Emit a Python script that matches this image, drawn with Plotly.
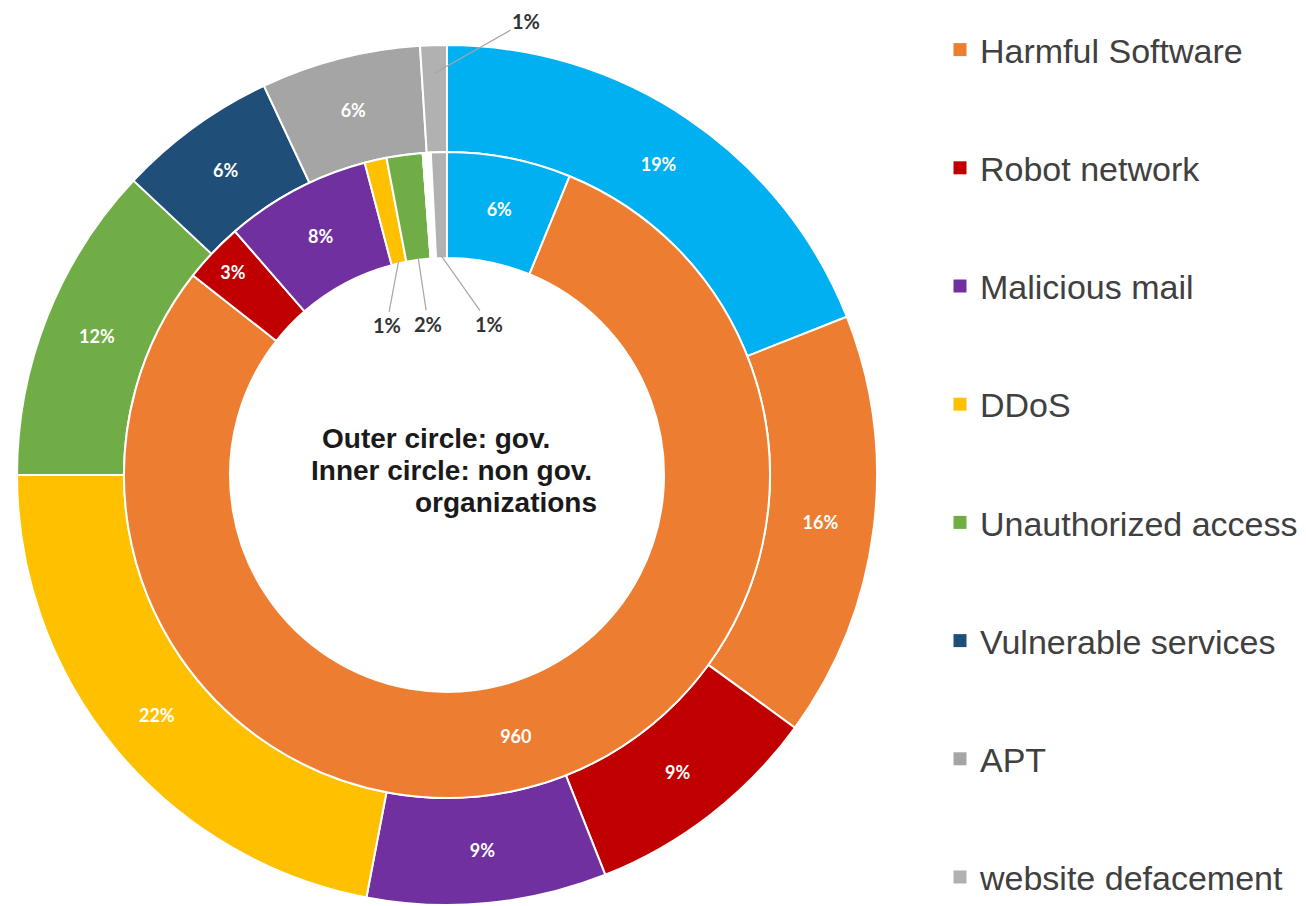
import math
import plotly.graph_objects as go

W, H = 1306, 906

# ---------------- data ----------------
labels = ["Other", "Harmful Software", "Robot network", "Malicious mail", "DDoS",
          "Unauthorized access", "Vulnerable services", "APT", "website defacement"]
colors = ["#00B0F0", "#ED7D31", "#C00000", "#7030A0", "#FFC000",
          "#70AD47", "#1F4E79", "#A5A5A5", "#B1B1B1"]

# outer circle: government organisations (share, %)
gov_values = [19, 16, 9, 9, 22, 12, 6, 6, 1]
gov_text = ["19%", "16%", "9%", "9%", "22%", "12%", "6%", "6%", "1%"]

# inner circle: non-government organisations (share read from the angles)
nongov_values = [6.2, 79.4, 3.0, 7.3, 1.1, 1.8, 0.0, 0.4, 0.8]
nongov_text = ["6%", "960", "3%", "8%", "1%", "2%", "", "", "1%"]

legend_labels = labels[1:]
legend_colors = colors[1:]

center_lines = ["Outer circle: gov.", "Inner circle: non gov.", "organizations"]

# ---------------- geometry / style ----------------
CX, CY = 447, 475          # pie centre in px
R_OUT, R_MID, R_HOLE = 430, 323, 217
SMALL = 2.5                # slices below this get a call-out label
inner_colors = list(colors)
inner_colors[labels.index("APT")] = "#FFFFFF"

outer_callouts = {"website defacement": (92, -52)}
inner_callouts = {"DDoS": (-12, 64), "Unauthorized access": (10, 66),
                  "website defacement": (48, 68)}

LABEL_FONT = dict(family="Lato, Carlito, sans-serif", size=18, color="white")


def px_x(x):
    return x / W


def px_y(y):
    return 1 - y / H


def mid_angle(values, i):
    total = sum(values)
    start = sum(values[:i])
    return (start + values[i] / 2) / total * 360.0


def point(angle_deg, r):
    a = math.radians(angle_deg)
    return CX + r * math.sin(a), CY - r * math.cos(a)


fig = go.Figure()

outer_pos = ["none" if v < SMALL else "inside" for v in gov_values]
inner_pos = ["none" if v < SMALL else "inside" for v in nongov_values]

fig.add_trace(go.Pie(
    labels=labels, values=gov_values, text=gov_text, texttemplate="<b>%{text}</b>",
    textposition=outer_pos, insidetextorientation="horizontal",
    sort=False, direction="clockwise", rotation=0,
    hole=R_MID / R_OUT,
    marker=dict(colors=colors, line=dict(color="white", width=2)),
    textfont=LABEL_FONT, showlegend=False,
    domain=dict(x=[px_x(CX - R_OUT), px_x(CX + R_OUT)],
                y=[px_y(CY + R_OUT), px_y(CY - R_OUT)]),
    name="gov.",
))

fig.add_trace(go.Pie(
    labels=labels, values=nongov_values, text=nongov_text, texttemplate="<b>%{text}</b>",
    textposition=inner_pos, insidetextorientation="horizontal",
    sort=False, direction="clockwise", rotation=0,
    hole=R_HOLE / R_MID,
    marker=dict(colors=inner_colors, line=dict(color="white", width=2)),
    textfont=LABEL_FONT, showlegend=False,
    domain=dict(x=[px_x(CX - R_MID), px_x(CX + R_MID)],
                y=[px_y(CY + R_MID), px_y(CY - R_MID)]),
    name="non gov.",
))

# legend entries (cyan category is not listed in the original legend)
for name, col in zip(legend_labels, legend_colors):
    fig.add_trace(go.Scatter(
        x=[None], y=[None], mode="markers", name=name, legendgroup=name,
        marker=dict(symbol="square", size=13, color=col), showlegend=True,
        hoverinfo="skip",
    ))

annotations = []
CALL_FONT = dict(family="Lato, Carlito, sans-serif", size=20, color="#333333")

for i, lab in enumerate(labels):
    if lab in outer_callouts and gov_values[i] > 0:
        ax, ay = outer_callouts[lab]
        x, y = point(mid_angle(gov_values, i), 402)
        annotations.append(dict(x=px_x(x), y=px_y(y), xref="paper", yref="paper",
                                text="<b>%s</b>" % gov_text[i], showarrow=True,
                                arrowhead=0, arrowwidth=1.2, arrowcolor="#A6A6A6",
                                ax=ax, ay=ay, font=CALL_FONT))
    if lab in inner_callouts and nongov_values[i] > 0:
        ax, ay = inner_callouts[lab]
        x, y = point(mid_angle(nongov_values, i), R_HOLE + 2)
        annotations.append(dict(x=px_x(x), y=px_y(y), xref="paper", yref="paper",
                                text="<b>%s</b>" % nongov_text[i], showarrow=True,
                                arrowhead=0, arrowwidth=1.2, arrowcolor="#A6A6A6",
                                ax=ax, ay=ay, font=CALL_FONT))

CENTER_FONT = dict(family="Liberation Sans, Arial, sans-serif", size=28, color="#1A1A1A")
center_pos = [(436, 438), (451, 470), (506, 502)]
for txt, (x, y) in zip(center_lines, center_pos):
    annotations.append(dict(x=px_x(x), y=px_y(y), xref="paper", yref="paper",
                            text="<b>%s</b>" % txt, showarrow=False,
                            xanchor="center", yanchor="middle", font=CENTER_FONT))

fig.update_layout(
    width=W, height=H,
    margin=dict(l=0, r=0, t=0, b=0),
    paper_bgcolor="white", plot_bgcolor="white",
    xaxis=dict(visible=False), yaxis=dict(visible=False),
    annotations=annotations,
    legend=dict(x=px_x(940), y=px_y(37), xanchor="left", yanchor="top",
                font=dict(family="Liberation Sans, Arial, sans-serif", size=34,
                          color="#404040"),
                tracegroupgap=71, bgcolor="rgba(0,0,0,0)"),
)

fig.write_html("out.html")
